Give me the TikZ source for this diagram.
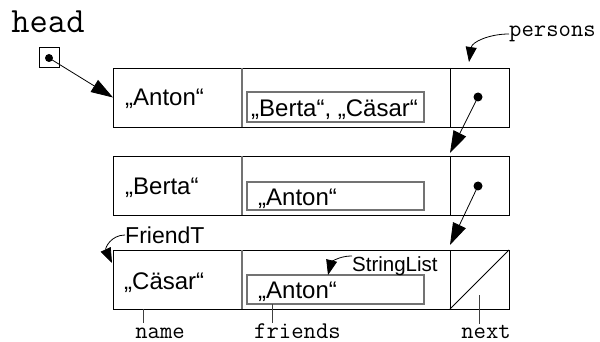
\documentclass[tikz,border=0pt]{standalone}
\usepackage{fontspec}
\setmainfont{Liberation Sans}
\usetikzlibrary{arrows.meta}

\begin{document}
\begin{tikzpicture}[x=1pt,y=-1pt,
  frame/.style={draw=black, line width=0.9pt},
  cell/.style={draw=none, inner sep=0pt, outer sep=0pt, minimum height=59pt},
  inbox/.style={draw=black!55, line width=1.4pt, inner sep=0pt, outer sep=0pt, minimum width=177pt},
  val/.style={inner sep=0pt, font=\fontsize{24}{28}\selectfont, anchor=base west},
  code/.style={inner sep=0pt, font=\ttfamily\fontsize{24}{26}\selectfont, anchor=base},
  tname/.style={inner sep=0pt},
  ptr/.style={line width=0.8pt, -{Triangle[length=22pt, width=14pt]}},
  note/.style={line width=0.8pt, -{Triangle[length=15pt, width=11pt]}},
  tick/.style={line width=0.8pt, draw=black!75},
  dot/.style={circle, fill=black, inner sep=0pt, minimum size=9pt},
]
\useasboundingbox (0,0) rectangle (600,342);

% head pointer
\node[code, font=\ttfamily\fontsize{35.5}{38}\selectfont] (headlbl) at (48,33) {head};
\node[draw=black, line width=0.8pt, minimum size=20pt, inner sep=0pt] (hbox) at (49,57.5) {};
\node[dot, minimum size=8pt] (hdot) at (49,58) {};

% row cells: name | friends | next
\node[cell, minimum width=129pt] (n1) at (177.5,97.5) {};
\node[cell, minimum width=208pt] (f1) at (346,97.5) {};
\node[cell, minimum width=59pt]  (x1) at (479.5,97.5) {};
\node[cell, minimum width=129pt] (n2) at (177.5,185.5) {};
\node[cell, minimum width=208pt] (f2) at (346,185.5) {};
\node[cell, minimum width=59pt]  (x2) at (479.5,185.5) {};
\node[cell, minimum width=129pt] (n3) at (177.5,279.5) {};
\node[cell, minimum width=208pt] (f3) at (346,279.5) {};
\node[cell, minimum width=59pt]  (x3) at (479.5,279.5) {};

\foreach \r in {1,2,3}{
  \draw[frame] (n\r.north west) rectangle (x\r.south east);
  \draw[frame] (x\r.north west) -- (x\r.south west);
  \draw[inbox, line width=1.2pt] (n\r.north east) -- (n\r.south east);
}

% string lists inside the friends cells
\node[inbox, minimum height=30pt] (l1) at (335.5,107) {};
\node[inbox, minimum height=28pt] (l2) at (335.5,196) {};
\node[inbox, minimum height=29pt] (l3) at (335.5,289.5) {};

% values
\node[val] (v1) at (125,106) {„Anton“};
\node[val] (w1) at (251,117) {„Berta“, „Cäsar“};
\node[val] (v2) at (125,194) {„Berta“};
\node[val] (w2) at (258,205) {„Anton“};
\node[val] (v3) at (124,289) {„Cäsar“};
\node[val] (w3) at (258,298) {„Anton“};

% next pointers
\node[dot] (d1) at (478,97) {};
\node[dot] (d2) at (478,186) {};
\draw[ptr] (hdot.center) -- (n1.west);
\draw[ptr] (d1.center) -- ([yshift=3pt]x2.north west);
\draw[ptr] (d2.center) -- ([yshift=5pt]x3.north west);
\draw[frame] (x3.south west) -- (x3.north east);

% annotations
\node[code, anchor=west] (persons) at (509,34) {persons};
\coordinate (ptip) at (469,62);
\draw[note] (persons.west) .. controls +(-20,0) and +(3,-20) .. (ptip);

\node[tname, anchor=west, font=\fontsize{23}{26}\selectfont] (ftype) at (125,235) {FriendT};
\coordinate (ftip) at (112,263);
\draw[note] (ftype.west) .. controls +(-14,0) and +(-7,-15) .. (ftip);

\node[tname, anchor=base west, font=\fontsize{20.5}{24}\selectfont] (stype) at (352,271) {StringList};
\draw[note] (stype.north west) .. controls +(-14,0) and +(3,-12) .. ([xshift=-7.5pt]l3.north);

% field names
\node[code] (fname) at (160,338) {name};
\node[code] (ffriends) at (297.5,338) {friends};
\node[code] (fnext) at (486,338) {next};
\draw[tick] ([xshift=-34.5pt]n3.south) -- ++(0,14);
\draw[tick] ([xshift=-63.5pt]l3.south) -- ++(0,19);
\draw[tick] ([yshift=-15.5pt]x3.center) -- ++(0,29);
\end{tikzpicture}
\end{document}
